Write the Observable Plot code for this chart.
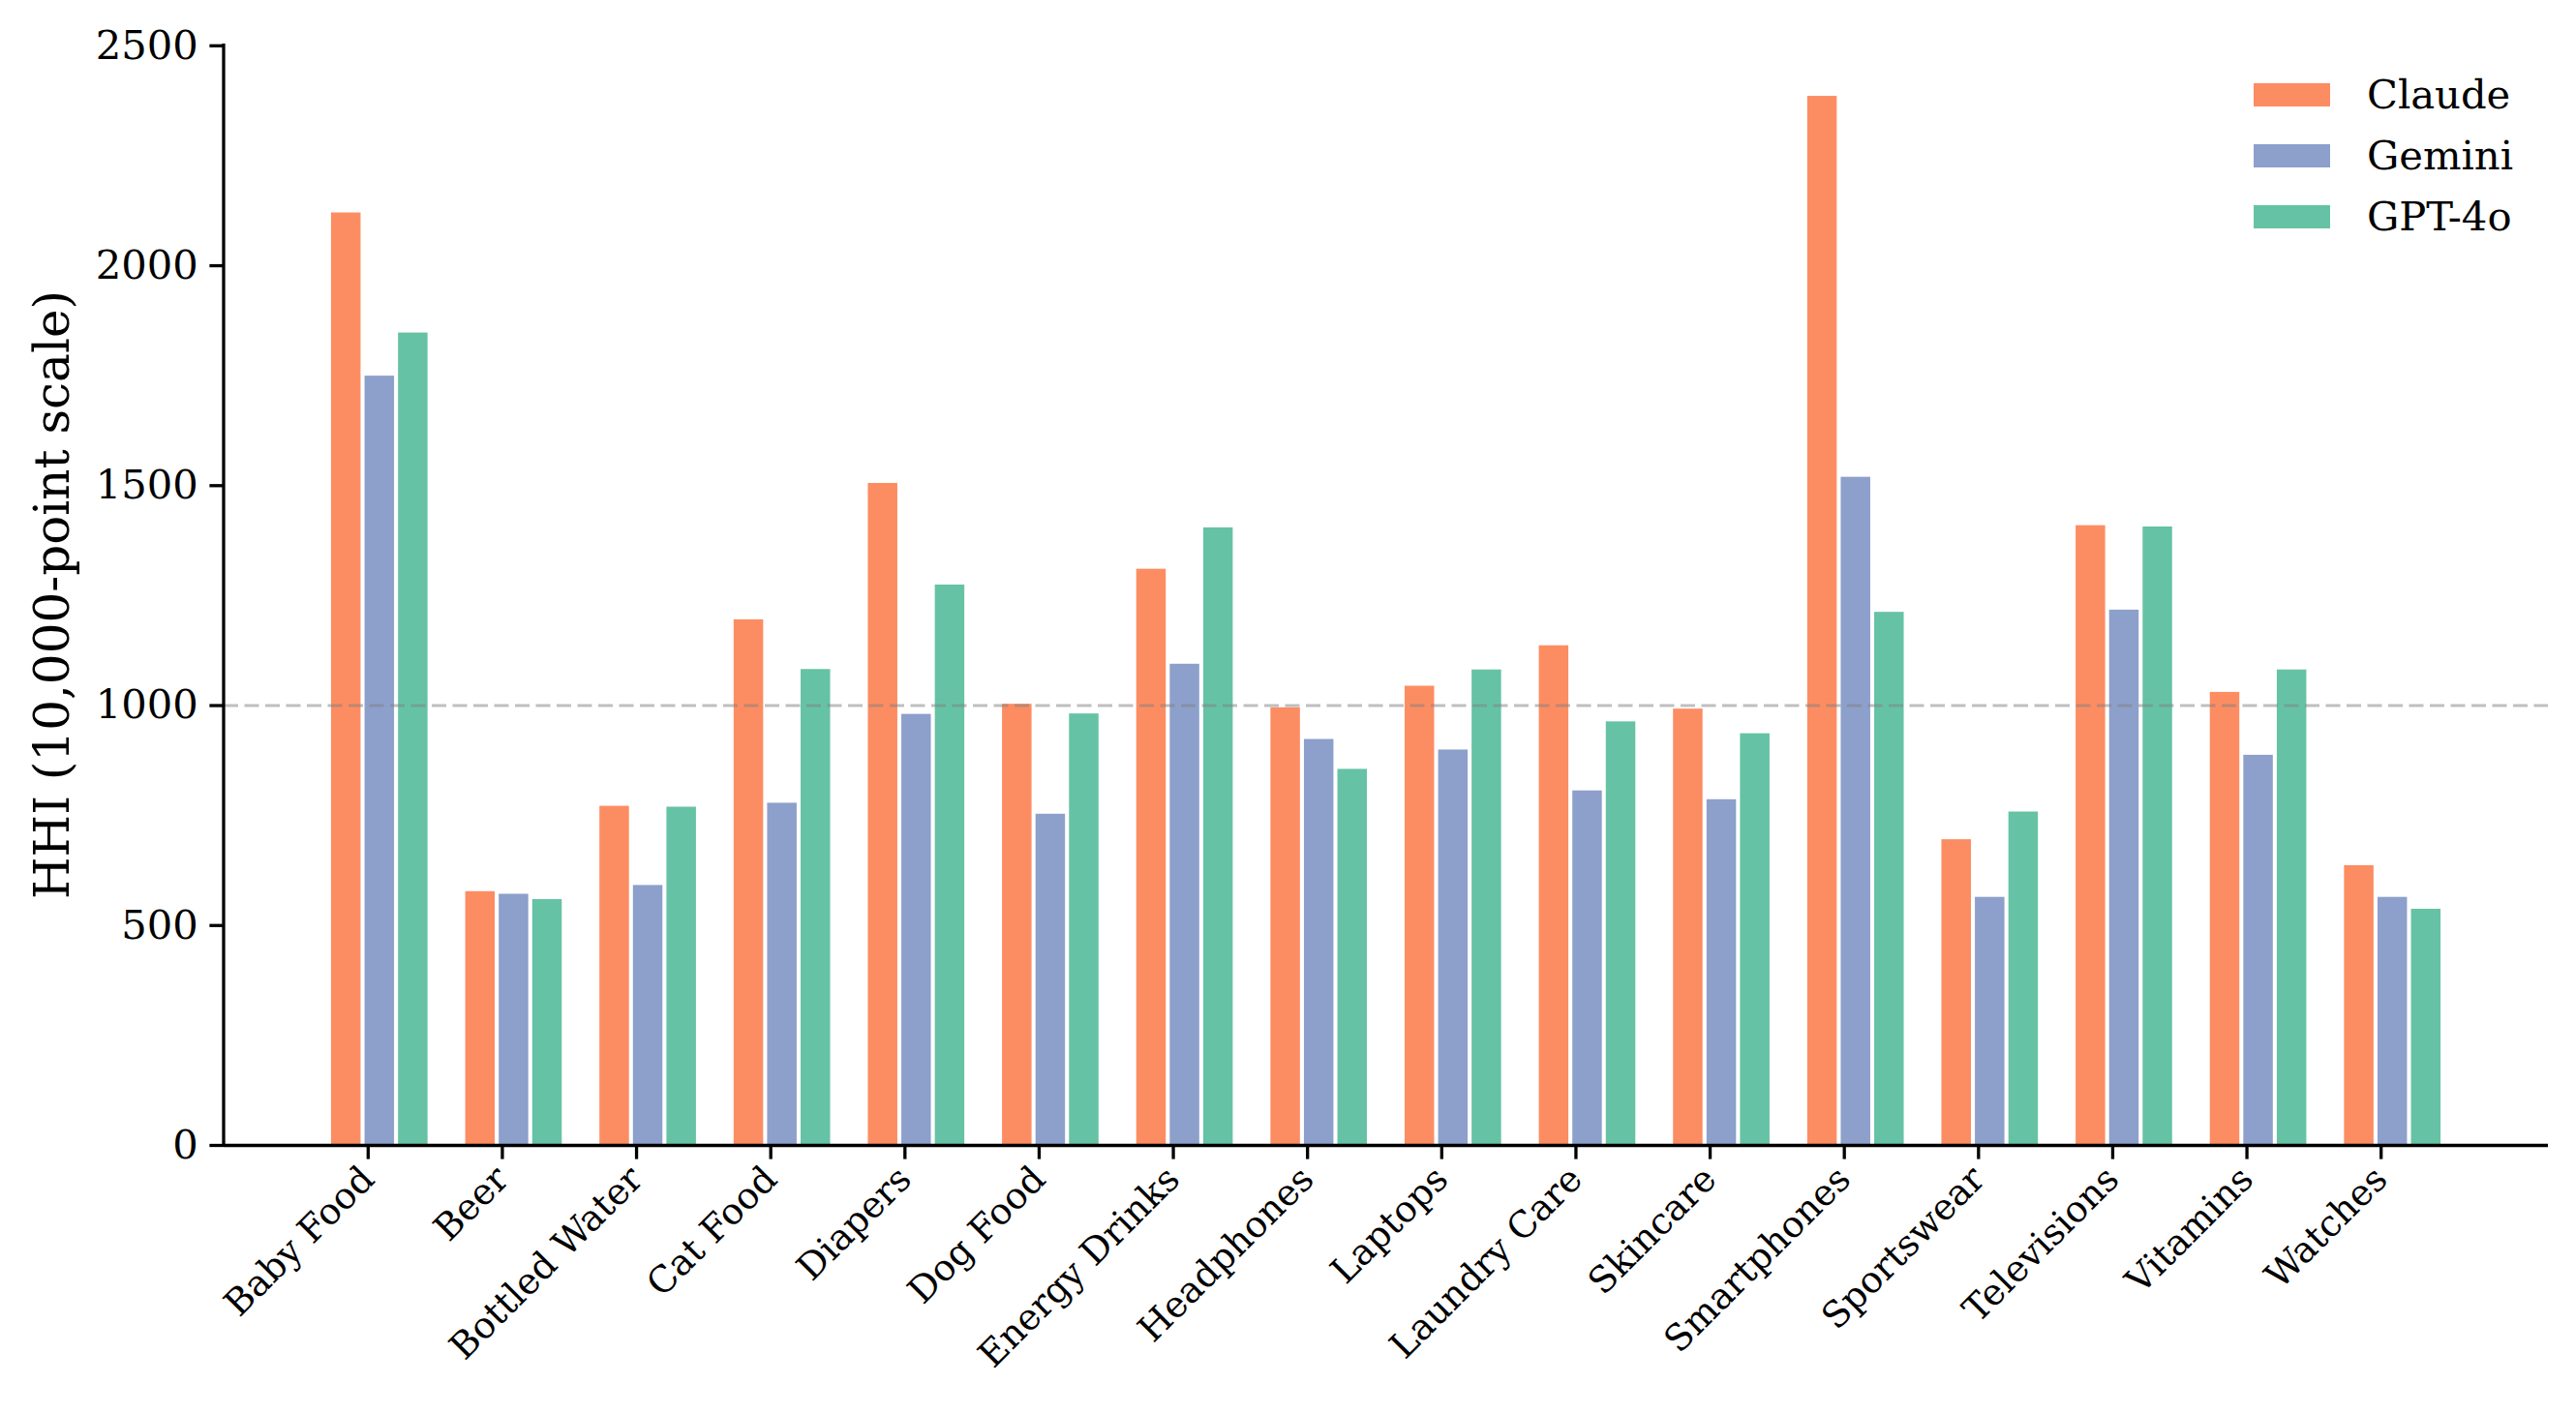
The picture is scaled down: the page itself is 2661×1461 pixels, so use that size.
<!DOCTYPE html>
<html>
<head>
<meta charset="utf-8">
<script src="https://cdn.jsdelivr.net/npm/d3@7"></script>
<script src="https://cdn.jsdelivr.net/npm/@observablehq/plot@0.6"></script>
<style>
  html, body { margin: 0; padding: 0; background: #fff; }
  #wrap { position: relative; width: 2661px; height: 1461px; font-family: "DejaVu Serif", serif; }
  #legend { position: absolute; left: 2328px; top: 66px; }
  .row { display: flex; align-items: center; height: 63px; }
  .sw { width: 79px; height: 24px; margin-right: 38px; }
  .lab { font-size: 41.7px; color: #000; line-height: 1; }
</style>
</head>
<body>
<div id="wrap"></div>
<script>
const categories = ["Baby Food","Beer","Bottled Water","Cat Food","Diapers","Dog Food","Energy Drinks","Headphones","Laptops","Laundry Care","Skincare","Smartphones","Sportswear","Televisions","Vitamins","Watches"];
const models = ["Claude", "Gemini", "GPT-4o"];
const colors = ["#fc8d62", "#8da0cb", "#66c2a5"];
const claude = [2120, 577, 771, 1195, 1505, 1003, 1310, 995, 1044, 1136, 992, 2385, 695, 1409, 1030, 636];
const gemini = [1749, 571, 591, 778, 980, 753, 1094, 923, 899, 806, 786, 1519, 564, 1217, 887, 564];
const gpt4o  = [1847, 559, 769, 1082, 1274, 981, 1404, 855, 1081, 963, 936, 1212, 758, 1406, 1081, 537];
const yTicks = [0, 500, 1000, 1500, 2000, 2500];
const yDomain = [0, 2504];
const threshold = [1000];
const yLabel = ["HHI (10,000-point scale)"];

const series = [claude, gemini, gpt4o];
const data = [];
models.forEach((m, i) => categories.forEach((c, j) => data.push({category: c, model: m, value: series[i][j]})));

const offsets = [-34.6, 0, 34.6];
const font = "DejaVu Serif";
const spineW = 3.3;

const barMarks = models.map((m, i) =>
  Plot.barY(data.filter(d => d.model === m), {x: "category", y: "value", fill: "model", dx: offsets[i]})
);

// left spine drawn through the y scale
const leftSpine = (index, scales, values, dims) => {
  const g = d3.create("svg:g");
  g.append("line")
    .attr("x1", dims.marginLeft).attr("x2", dims.marginLeft)
    .attr("y1", scales.y(yDomain[0]) + spineW / 2).attr("y2", scales.y(yDomain[1]))
    .attr("stroke", "#000").attr("stroke-width", spineW);
  return g.node();
};

const chart = Plot.plot({
  width: 2661,
  height: 1461,
  marginLeft: 231,
  marginRight: 29,
  marginTop: 45,
  marginBottom: 278,
  style: {fontFamily: font, background: "#fff", color: "#000"},
  x: {type: "band", domain: categories, paddingInner: 0.78, paddingOuter: 1.05, round: false, axis: null},
  y: {domain: yDomain, axis: null},
  color: {domain: models, range: colors},
  marks: [
    ...barMarks,
    Plot.ruleY(threshold, {stroke: "#808080", strokeOpacity: 0.5, strokeWidth: 3, strokeDasharray: "15,6.5"}),
    Plot.ruleY([0], {stroke: "#000", strokeWidth: spineW}),
    leftSpine,
    Plot.axisY({ticks: yTicks, tickSize: 14.6, tickPadding: 12, fontSize: 41.7, stroke: "#000", strokeWidth: spineW, label: null, tickFormat: d => String(d)}),
    Plot.axisX({tickSize: 14.6, tickPadding: 14, fontSize: 37.5, stroke: "#000", strokeWidth: spineW, label: null, tickRotate: -45, dx: -12}),
    Plot.text(yLabel, {frameAnchor: "left", textAnchor: "middle", rotate: -90, dx: -177, fontSize: 50, fill: "#000"})
  ]
});

const wrap = document.getElementById("wrap");
wrap.appendChild(chart);

const legend = document.createElement("div");
legend.id = "legend";
models.forEach((m, i) => {
  const row = document.createElement("div");
  row.className = "row";
  const sw = document.createElement("div");
  sw.className = "sw";
  sw.style.background = colors[i];
  const lab = document.createElement("div");
  lab.className = "lab";
  lab.textContent = m;
  row.appendChild(sw);
  row.appendChild(lab);
  legend.appendChild(row);
});
wrap.appendChild(legend);
</script>
</body>
</html>
